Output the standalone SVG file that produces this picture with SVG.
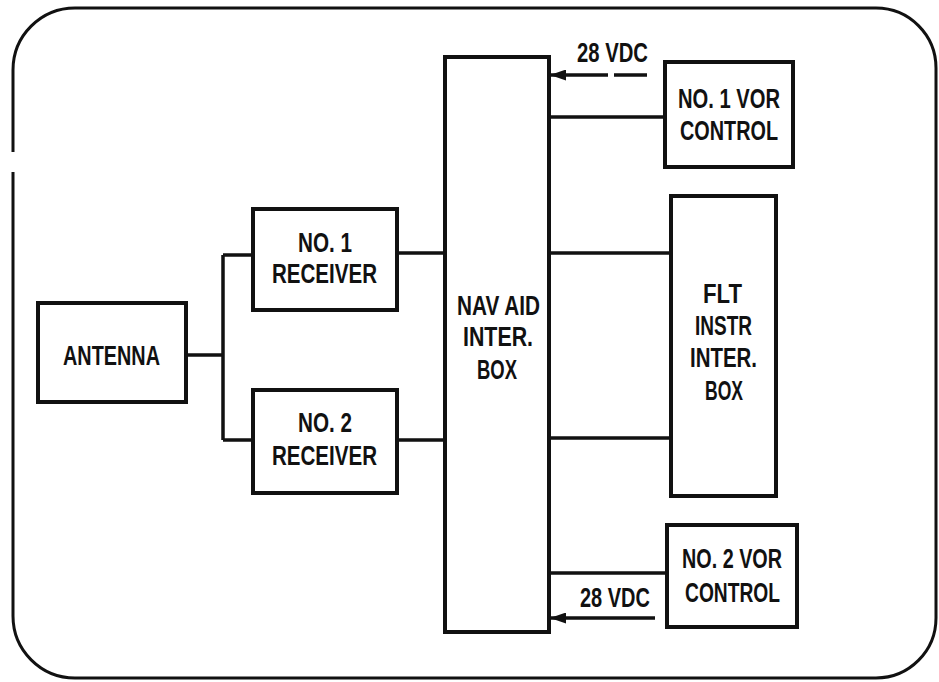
<svg xmlns="http://www.w3.org/2000/svg" width="939" height="682" viewBox="0 0 939 682">
<style>
.box{fill:none;stroke:#111;stroke-width:4}
.ln{fill:none;stroke:#111;stroke-width:3.5}
.t{font-family:"Liberation Sans","Arial",sans-serif;font-weight:bold;font-size:27px;fill:#111;text-anchor:middle}
</style>
<defs>
<marker id="ah" markerWidth="16" markerHeight="11" refX="16" refY="5.5" orient="auto" markerUnits="userSpaceOnUse">
<path d="M0,0 L16,5.5 L0,11 Z" fill="#111"/>
</marker>
</defs>
<rect x="0" y="0" width="939" height="682" fill="#fff"/>
<g id="border">
<path d="M13,152 L13,70 A62,62 0 0 1 75,8 L876,8 A60,60 0 0 1 936,68" fill="none" stroke="#111" stroke-width="3"/>
<path d="M13,172 L13,616 A62,62 0 0 0 75,678 L876,678 A60,60 0 0 0 936,618 L936,68" fill="none" stroke="#111" stroke-width="3"/>
</g>
<g id="connectors">
<path class="ln" d="M186,355 H223 M223,255 V440 M223,255 H253 M223,440 H253"/>
<path class="ln" d="M397,253 H445 M397,440 H445"/>
<path class="ln" d="M549,117 H665 M549,253 H671 M549,438 H671 M549,573 H667"/>
<path class="ln" d="M647,75 H614 M608,75 H550" marker-end="url(#ah)"/>
<path class="ln" d="M655,618 H550" marker-end="url(#ah)"/>
</g>
<g id="antenna">
<rect class="box" x="38" y="303" width="148" height="99"/>
<text class="t" x="111.5" y="365" textLength="97" lengthAdjust="spacingAndGlyphs">ANTENNA</text>
</g>
<g id="receiver1">
<rect class="box" x="253" y="209" width="144" height="101"/>
<text class="t" x="325" y="252" textLength="54" lengthAdjust="spacingAndGlyphs">NO. 1</text>
<text class="t" x="324.5" y="283" textLength="105" lengthAdjust="spacingAndGlyphs">RECEIVER</text>
</g>
<g id="receiver2">
<rect class="box" x="253" y="390" width="144" height="103"/>
<text class="t" x="325" y="432" textLength="54" lengthAdjust="spacingAndGlyphs">NO. 2</text>
<text class="t" x="324.5" y="465" textLength="105" lengthAdjust="spacingAndGlyphs">RECEIVER</text>
</g>
<g id="navaid">
<rect class="box" x="445" y="57" width="104" height="575"/>
<text class="t" x="498.5" y="315" textLength="83" lengthAdjust="spacingAndGlyphs">NAV AID</text>
<text class="t" x="498" y="346" textLength="70" lengthAdjust="spacingAndGlyphs">INTER.</text>
<text class="t" x="497" y="379" textLength="40" lengthAdjust="spacingAndGlyphs">BOX</text>
</g>
<g id="vor1">
<rect class="box" x="665" y="62" width="128" height="105"/>
<text class="t" x="729" y="108" textLength="102" lengthAdjust="spacingAndGlyphs">NO. 1 VOR</text>
<text class="t" x="729" y="140" textLength="98" lengthAdjust="spacingAndGlyphs">CONTROL</text>
</g>
<g id="fltinstr">
<rect class="box" x="671" y="196" width="105" height="300"/>
<text class="t" x="722.5" y="303" textLength="39" lengthAdjust="spacingAndGlyphs">FLT</text>
<text class="t" x="723.5" y="335" textLength="57" lengthAdjust="spacingAndGlyphs">INSTR</text>
<text class="t" x="723.5" y="367" textLength="67" lengthAdjust="spacingAndGlyphs">INTER.</text>
<text class="t" x="724" y="400" textLength="38" lengthAdjust="spacingAndGlyphs">BOX</text>
</g>
<g id="vor2">
<rect class="box" x="667" y="525" width="130" height="102"/>
<text class="t" x="732" y="568" textLength="100" lengthAdjust="spacingAndGlyphs">NO. 2 VOR</text>
<text class="t" x="732.5" y="602" textLength="95" lengthAdjust="spacingAndGlyphs">CONTROL</text>
</g>
<g id="labels">
<text class="t" x="612.5" y="62" textLength="71" lengthAdjust="spacingAndGlyphs">28 VDC</text>
<text class="t" x="615" y="607" textLength="70" lengthAdjust="spacingAndGlyphs">28 VDC</text>
</g>
</svg>
